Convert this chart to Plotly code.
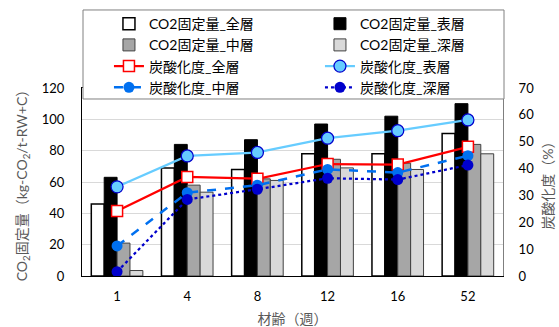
import plotly.graph_objects as go

categories = ["1", "4", "8", "12", "16", "52"]

# CO2固定量 (kg-CO2/t-RW+C)
co2_all = [46, 69, 68, 78, 78, 91]
co2_surface = [63, 84, 87, 97, 102, 110]
co2_middle = [21, 58, 62, 74.5, 72, 84]
co2_deep = [3.5, 53.5, 61, 69, 68, 78]

# 炭酸化度 (%)
carb_all = [24.2, 36.9, 36.2, 41.7, 41.5, 48.1]
carb_surface = [33.2, 44.7, 46.0, 51.3, 54.1, 58.1]
carb_middle = [11.2, 31.0, 33.8, 39.7, 38.5, 44.8]
carb_deep = [1.6, 28.5, 32.3, 36.4, 35.9, 41.3]

FONT = "Lato, 'Noto Sans CJK JP', sans-serif"

fig = go.Figure()

fig.add_trace(go.Bar(x=categories, y=co2_all, name="CO2固定量_全層",
                     marker=dict(color="white", line=dict(color="black", width=1.5))))
fig.add_trace(go.Bar(x=categories, y=co2_surface, name="CO2固定量_表層",
                     marker=dict(color="black", line=dict(color="black", width=1))))
fig.add_trace(go.Bar(x=categories, y=co2_middle, name="CO2固定量_中層",
                     marker=dict(color="#a6a6a6", line=dict(color="#404040", width=1))))
fig.add_trace(go.Bar(x=categories, y=co2_deep, name="CO2固定量_深層",
                     marker=dict(color="#d9d9d9", line=dict(color="#404040", width=1))))

fig.add_trace(go.Scatter(x=categories, y=carb_all, name="炭酸化度_全層", yaxis="y2",
                         mode="lines+markers",
                         line=dict(color="#ff0000", width=2.25),
                         marker=dict(symbol="square", size=11, color="white",
                                     line=dict(color="#ff0000", width=1.5))))
fig.add_trace(go.Scatter(x=categories, y=carb_surface, name="炭酸化度_表層", yaxis="y2",
                         mode="lines+markers",
                         line=dict(color="#66ccff", width=2.25),
                         marker=dict(symbol="circle", size=12, color="#66ccff",
                                     line=dict(color="#0000cc", width=1.25))))
fig.add_trace(go.Scatter(x=categories, y=carb_middle, name="炭酸化度_中層", yaxis="y2",
                         mode="lines+markers",
                         line=dict(color="#0070f0", width=2.5, dash="dash"),
                         marker=dict(symbol="circle", size=11, color="#0070f0")))
fig.add_trace(go.Scatter(x=categories, y=carb_deep, name="炭酸化度_深層", yaxis="y2",
                         mode="lines+markers",
                         line=dict(color="#0000cc", width=2.25, dash="dot"),
                         marker=dict(symbol="circle", size=11, color="#0000cc")))

fig.update_layout(
    width=559, height=327,
    margin=dict(l=82, r=56, t=88, b=51, autoexpand=False),
    paper_bgcolor="white", plot_bgcolor="white",
    font=dict(family=FONT, size=13, color="#000000"),
    barmode="group", bargap=0.265, bargroupgap=0,
    showlegend=True,
    legend=dict(orientation="h", x=-0.0001, xanchor="left", y=1.425, yanchor="top",
                indentation=27,
                entrywidth=139, entrywidthmode="pixels",
                bgcolor="rgba(0,0,0,0)", borderwidth=0,
                font=dict(family=FONT, size=14, color="#000000"),
                traceorder="normal"),
    xaxis=dict(type="category", showline=True, linecolor="black", linewidth=1,
               mirror=True, showgrid=False,
               ticks="outside", ticklen=8, tickcolor="rgba(0,0,0,0)",
               tickfont=dict(size=13, color="#000000"),
               title=dict(text="材齢（週）", font=dict(size=14, color="#595959"), standoff=11)),
    yaxis=dict(range=[0, 120], dtick=20, showline=True, linecolor="black", linewidth=1,
               showgrid=True, gridcolor="#d9d9d9", gridwidth=1, zeroline=False,
               ticks="outside", ticklen=14, tickcolor="rgba(0,0,0,0)",
               tickfont=dict(size=13, color="#000000"),
               title=dict(text="CO<sub>2</sub>固定量（kg-CO<sub>2</sub>/t-RW+C）",
                          font=dict(size=14, color="#595959"), standoff=10)),
    yaxis2=dict(range=[0, 70], dtick=10, overlaying="y", side="right",
                showline=True, linecolor="#7f7f7f", linewidth=1,
                showgrid=False, zeroline=False,
                ticks="outside", ticklen=12, tickcolor="rgba(0,0,0,0)",
                tickfont=dict(size=13, color="#000000"),
                title=dict(text="炭酸化度（%）", font=dict(size=14, color="#595959"), standoff=10)),
    shapes=[dict(type="rect", xref="paper", yref="paper",
                 x0=0.0024, x1=1.0024, y0=0.9415, y1=1.415,
                 fillcolor="white", line=dict(color="#808080", width=1), layer="above")],
)

fig.write_html("out.html", config={"displayModeBar": False},
               post_script="document.body.style.margin='0';")
